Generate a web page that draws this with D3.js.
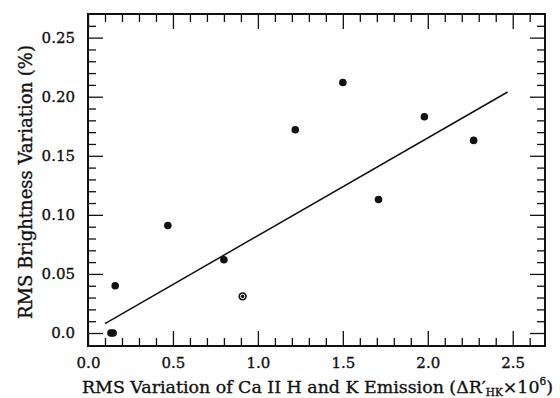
<!DOCTYPE html>
<html>
<head>
<meta charset="utf-8">
<script src="https://cdn.jsdelivr.net/npm/d3@7"></script>
<style>
  body { margin: 0; background: #fff; }
  text { font-family: "DejaVu Serif", serif; fill: #111; stroke: #111; stroke-width: 0.35px; }
</style>
</head>
<body>
<div class="chart"></div>
<script>
// data
var caVariation = [0.135, 0.148, 0.16, 0.47, 0.80, 1.22, 1.50, 1.71, 1.98, 2.27];
var brightVariation = [0.0, 0.0, 0.040, 0.091, 0.062, 0.172, 0.212, 0.113, 0.183, 0.163];
var ringedX = [0.91];
var ringedY = [0.031];
var fitX = [0.10, 2.47];
var fitY = [0.008, 0.204];
var xTickLabels = ["0.0", "0.5", "1.0", "1.5", "2.0", "2.5"];
var yTickLabels = ["0.0", "0.05", "0.10", "0.15", "0.20", "0.25"];

var svgWidth = 560;
var svgHeight = 398;
var margin = { top: 14, right: 15, bottom: 52, left: 88 };
var width = svgWidth - margin.left - margin.right;
var height = svgHeight - margin.top - margin.bottom;

var svg = d3.select(".chart")
  .append("svg")
  .attr("width", svgWidth)
  .attr("height", svgHeight);

var chartGroup = svg.append("g")
  .attr("transform", `translate(${margin.left}, ${margin.top})`);

var xScale = d3.scaleLinear().domain([0, 2.69]).range([0, width]);
var yScale = d3.scaleLinear().domain([-0.011, 0.270]).range([height, 0]);

var xMajor = xTickLabels.map(Number);
var yMajor = yTickLabels.map(Number);
var xMinor = d3.range(0, 27).map(i => i / 10).filter(v => Math.abs(v * 2 - Math.round(v * 2)) > 1e-6);
var yMinor = d3.range(0, 27).map(i => i / 100).filter(v => Math.abs(v * 20 - Math.round(v * 20)) > 1e-6);

function styleAxis(g) {
  g.select(".domain").remove();
  g.selectAll("line").attr("stroke", "#111").attr("stroke-width", 1.3);
  g.selectAll("text")
    .style("font-family", "DejaVu Serif, serif")
    .style("font-size", "15px")
    .attr("fill", "#111");
}

// bottom
chartGroup.append("g").attr("transform", `translate(0, ${height})`)
  .call(d3.axisBottom(xScale).tickValues(xMajor).tickSize(-15).tickPadding(11).tickFormat((d, i) => xTickLabels[i]))
  .call(styleAxis);
chartGroup.append("g").attr("transform", `translate(0, ${height})`)
  .call(d3.axisBottom(xScale).tickValues(xMinor).tickSize(-8).tickFormat(""))
  .call(styleAxis);
// top
chartGroup.append("g")
  .call(d3.axisTop(xScale).tickValues(xMajor).tickSize(-15).tickFormat(""))
  .call(styleAxis);
chartGroup.append("g")
  .call(d3.axisTop(xScale).tickValues(xMinor).tickSize(-8).tickFormat(""))
  .call(styleAxis);
// left
chartGroup.append("g")
  .call(d3.axisLeft(yScale).tickValues(yMajor).tickSize(-15).tickPadding(13).tickFormat((d, i) => yTickLabels[i]))
  .call(styleAxis);
chartGroup.append("g")
  .call(d3.axisLeft(yScale).tickValues(yMinor).tickSize(-8).tickFormat(""))
  .call(styleAxis);
// right
chartGroup.append("g").attr("transform", `translate(${width}, 0)`)
  .call(d3.axisRight(yScale).tickValues(yMajor).tickSize(-15).tickFormat(""))
  .call(styleAxis);
chartGroup.append("g").attr("transform", `translate(${width}, 0)`)
  .call(d3.axisRight(yScale).tickValues(yMinor).tickSize(-8).tickFormat(""))
  .call(styleAxis);

// frame
chartGroup.append("rect")
  .attr("width", width)
  .attr("height", height)
  .attr("fill", "none")
  .attr("stroke", "#111")
  .attr("stroke-width", 2);

// fit line
chartGroup.append("path")
  .datum(d3.zip(fitX, fitY))
  .attr("d", d3.line().x(d => xScale(d[0])).y(d => yScale(d[1])))
  .attr("fill", "none")
  .attr("stroke", "#111")
  .attr("stroke-width", 1.5);

// points
chartGroup.selectAll("circle.pt")
  .data(d3.zip(caVariation, brightVariation))
  .enter()
  .append("circle")
  .attr("class", "pt")
  .attr("cx", d => xScale(d[0]))
  .attr("cy", d => yScale(d[1]))
  .attr("r", 3.8)
  .attr("fill", "#111");

// ringed point
var ringed = chartGroup.selectAll("g.ringed")
  .data(d3.zip(ringedX, ringedY))
  .enter()
  .append("g")
  .attr("transform", d => `translate(${xScale(d[0])}, ${yScale(d[1])})`);
ringed.append("circle").attr("r", 4.2).attr("fill", "#111");
ringed.append("circle").attr("r", 2.2).attr("fill", "none").attr("stroke", "#fff").attr("stroke-width", 1);

// axis titles
svg.append("text")
  .attr("transform", `translate(32, 182) rotate(-90)`)
  .attr("text-anchor", "middle")
  .style("font-size", "18px")
  .text("RMS Brightness Variation (%)");

var xTitle = svg.append("text")
  .attr("x", 82)
  .attr("y", 393)
  .style("font-size", "17.4px");
xTitle.append("tspan").text("RMS Variation of Ca II H and K Emission (ΔR′");
xTitle.append("tspan").attr("dy", 3).style("font-size", "10.5px").text("HK");
xTitle.append("tspan").attr("dy", -3).text("×10");
xTitle.append("tspan").attr("dy", -8).style("font-size", "10.5px").text("6");
xTitle.append("tspan").attr("dy", 8).text(")");
</script>
</body>
</html>
